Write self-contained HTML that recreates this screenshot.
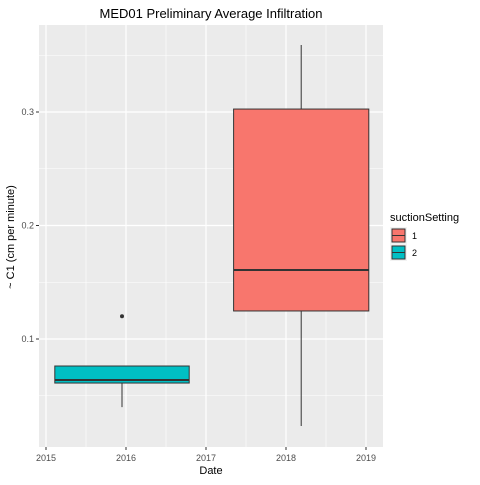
<!DOCTYPE html>
<html><head><meta charset="utf-8"><style>body{margin:0;background:#fff}svg text{font-family:"Liberation Sans",sans-serif}</style></head>
<body>
<svg id="c" width="480" height="480"></svg>
<script>
const xTicks=[2015,2016,2017,2018,2019];
const yTicks=[0.1,0.2,0.3];
const groups=["1","2"];
const centers=[2018.19,2015.95];
const halfWidths=[0.845,0.84];
const lowW=[0.0233,0.040];
const q1=[0.1247,0.0612];
const med=[0.1608,0.0639];
const q3=[0.3026,0.0762];
const highW=[0.359,0.0762];
const outX=[2015.95];
const outY=[0.12];
const fills=["#F8766D","#00BFC4"];
const L=39,R=383,T=25,B=447;
const sx=v=>46+(v-2015)*80;
const sy=v=>339-(v-0.1)*1135;
const svg=document.getElementById('c');
const NS='http://www.w3.org/2000/svg';
function mk(t,a,p){const e=document.createElementNS(NS,t);for(const k in a)e.setAttribute(k,a[k]);(p||svg).appendChild(e);return e;}
let e=mk('rect',{x:L,y:T,width:R-L,height:B-T,fill:'#EBEBEB'});


for(let i=0;i<xTicks.length-1;i++){const m=sx((xTicks[i]+xTicks[i+1])/2);e=mk('line',{x1:m,x2:m,y1:T,y2:B,stroke:'#fff','stroke-width':0.6});

}
for(let i=0;i<yTicks.length-1;i++){const m=sy((yTicks[i]+yTicks[i+1])/2);e=mk('line',{x1:L,x2:R,y1:m,y2:m,stroke:'#fff','stroke-width':0.6});

}
[sy(0.05),sy(0.35)].forEach(m=>{e=mk('line',{x1:L,x2:R,y1:m,y2:m,stroke:'#fff','stroke-width':0.6});

});
xTicks.forEach(t=>{const x=sx(t);e=mk('line',{x1:x,x2:x,y1:T,y2:B,stroke:'#fff','stroke-width':1.2});


e=mk('line',{x1:x,x2:x,y1:B,y2:B+3,stroke:'#333'});


e=mk('text',{x:x,y:B+14,'text-anchor':'middle','font-size':9,fill:'#4D4D4D'});e.textContent=t;

});
yTicks.forEach(t=>{const y=sy(t);e=mk('line',{x1:L,x2:R,y1:y,y2:y,stroke:'#fff','stroke-width':1.2});


e=mk('line',{x1:L-3,x2:L,y1:y,y2:y,stroke:'#333'});


e=mk('text',{x:L-5,y:y+3,'text-anchor':'end','font-size':9,fill:'#4D4D4D'});e.textContent=t.toFixed(1);

});
for(let i=0;i<groups.length;i++){const c=sx(centers[i]),x0=sx(centers[i]-halfWidths[i]),x1=sx(centers[i]+halfWidths[i]);
e=mk('line',{x1:c,x2:c,y1:sy(highW[i]),y2:sy(lowW[i]),stroke:'#333','stroke-width':1});


e=mk('rect',{x:x0,y:sy(q3[i]),width:x1-x0,height:sy(q1[i])-sy(q3[i]),fill:fills[i],stroke:'#333','stroke-width':1});


e=mk('line',{x1:x0,x2:x1,y1:sy(med[i]),y2:sy(med[i]),stroke:'#333','stroke-width':2});

}
for(let i=0;i<outX.length;i++){e=mk('circle',{cx:sx(outX[i]),cy:sy(outY[i]),r:2,fill:'#333'});

}
e=mk('text',{x:211,y:18,'text-anchor':'middle','font-size':13,fill:'#000'});e.textContent='MED01 Preliminary Average Infiltration';


e=mk('text',{x:211,y:474,'text-anchor':'middle','font-size':11,fill:'#000'});e.textContent='Date';


e=mk('text',{x:14,y:237,'text-anchor':'middle','font-size':11,fill:'#000',transform:'rotate(-90 14 237)'});e.textContent='~ C1 (cm per minute)';


e=mk('text',{x:390,y:221,'font-size':11,fill:'#000'});e.textContent='suctionSetting';


groups.forEach((g,i)=>{const y=227+i*17;
e=mk('rect',{x:390,y:y,width:17,height:17,fill:'#F2F2F2'});


e=mk('rect',{x:392,y:y+2,width:13,height:13,fill:fills[i],stroke:'#333','stroke-width':1});


e=mk('line',{x1:392,x2:405,y1:y+8.5,y2:y+8.5,stroke:'#333','stroke-width':1});


e=mk('text',{x:412,y:y+12,'font-size':9,fill:'#000'});e.textContent=g;

});
</script>
</body></html>
